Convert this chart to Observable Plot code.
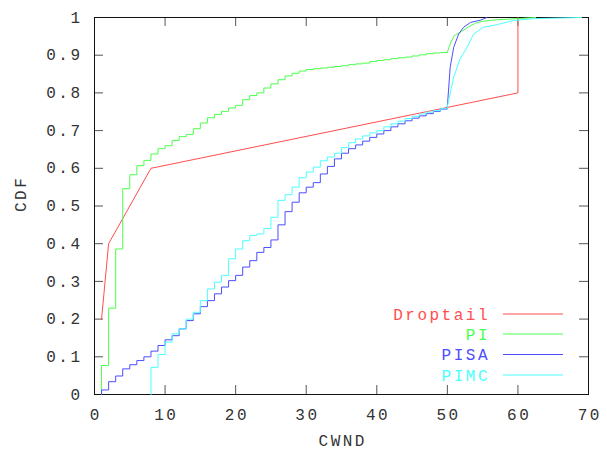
<!DOCTYPE html>
<html><head><meta charset="utf-8">
<script src="https://cdn.jsdelivr.net/npm/d3@7"></script>
<script src="https://cdn.jsdelivr.net/npm/@observablehq/plot@0.6"></script>
<style>
body{margin:0;background:#fff}
#chart svg{letter-spacing:2.5px}
</style>
</head><body><div id="chart"></div>
<script>
const seriesNames = ["Droptail", "PI", "PISA", "PIMC"];
const seriesColors = ["#ff4d4d", "#4dff4d", "#4d4dff", "#4dffff"];

const droptail = [[1,0.2],[1.5,0.3],[2,0.4],[8,0.6],[60,0.8],[60,1.0]];

const pi = [[1,0],[1,0.077],[2,0.229],[3,0.386],[4,0.546],[5,0.583],[6,0.607],[7,0.621],[8,0.638],[9,0.652],[10,0.66],[11,0.674],[12,0.684],[13,0.69],[14,0.705],[15,0.72],[16,0.734],[17,0.743],[18,0.751],[19,0.76],[20,0.767],[21,0.782],[22,0.793],[23,0.80],[24,0.813],[25,0.824],[26,0.835],[27,0.845],[28,0.852],[29,0.858],[30,0.862],[31,0.864],[32,0.866],[33,0.868],[34,0.87],[35,0.872],[36,0.875],[37,0.877],[38,0.879],[39,0.883],[40,0.886],[41,0.888],[42,0.891],[43,0.893],[44,0.895],[45,0.898],[46,0.901],[47,0.904],[48,0.906],[49,0.907],[50,0.908],[50.5,0.935],[51,0.952],[52,0.963],[53,0.975],[54,0.985],[55,0.99],[56,0.992],[57,0.994],[58,0.995],[60,0.997],[62.5,1.0]];

const pisa = [[1,0],[1,0.012],[2,0.034],[3,0.049],[4,0.068],[5,0.079],[6,0.09],[7,0.10],[8,0.115],[9,0.13],[10,0.145],[11,0.156],[12,0.174],[13,0.196],[14,0.214],[15,0.233],[16,0.249],[17,0.267],[18,0.285],[19,0.302],[20,0.316],[21,0.338],[22,0.355],[23,0.377],[24,0.39],[25,0.41],[26,0.45],[27,0.485],[28,0.51],[29,0.535],[30,0.55],[31,0.562],[32,0.585],[33,0.605],[34,0.625],[35,0.64],[36,0.652],[37,0.662],[38,0.672],[39,0.682],[40,0.691],[41,0.7],[42,0.71],[43,0.718],[44,0.726],[45,0.733],[46,0.739],[47,0.745],[48,0.751],[49,0.757],[50,0.764],[50.4,0.868],[50.9,0.921],[51.6,0.956],[52.3,0.974],[53.3,0.987],[54.7,0.993],[55.6,1.0]];

const pimc = [[8,0],[8,0.072],[9,0.106],[10,0.139],[11,0.161],[12,0.174],[13,0.20],[14,0.218],[15,0.249],[16,0.28],[17,0.298],[18,0.316],[19,0.36],[20,0.386],[21,0.408],[22,0.422],[23,0.426],[24,0.44],[25,0.47],[26,0.515],[27,0.53],[28,0.55],[29,0.575],[30,0.59],[31,0.603],[32,0.62],[33,0.63],[34,0.64],[35,0.655],[36,0.668],[37,0.678],[38,0.686],[39,0.694],[40,0.7],[41,0.71],[42,0.718],[43,0.725],[44,0.732],[45,0.738],[46,0.744],[47,0.749],[48,0.753],[49,0.758],[50,0.764],[50.9,0.842],[51.8,0.89],[52.8,0.921],[53.7,0.956],[55.1,0.974],[57,0.981],[59.4,0.992],[62.2,0.997],[69,1.0]];

const xTicks = [0,10,20,30,40,50,60,70];
const yTicks = [0,0.1,0.2,0.3,0.4,0.5,0.6,0.7,0.8,0.9,1];
const xLabel = "CWND";
const yLabel = "CDF";
const stepLimit = 50; // beyond this the CDFs rise steeply and are drawn as lines

const W = 607, H = 456, mL = 94, mR = 19, mT = 17, mB = 62;
const plotW = W - mL - mR, plotH = H - mT - mB;
const FONT = "'Liberation Mono', 'DejaVu Sans Mono', monospace";
const FS = 16;
const TICK = 9;
const ink = "#333";
const tickInk = "#555";

const stepSeries = [pi, pisa, pimc];

const chart = Plot.plot({
  width: W, height: H,
  marginLeft: mL, marginRight: mR, marginTop: mT, marginBottom: mB,
  style: {fontFamily: FONT, fontSize: FS + "px", background: "#fff", color: ink},
  x: {domain: [0, 70]},
  y: {domain: [0, 1]},
  marks: [
    Plot.tickX(xTicks, {x: d => d, insetTop: plotH - TICK, stroke: tickInk}),
    Plot.tickX(xTicks, {x: d => d, insetBottom: plotH - TICK, stroke: tickInk}),
    Plot.tickY(yTicks, {y: d => d, insetRight: plotW - TICK, stroke: tickInk}),
    Plot.tickY(yTicks, {y: d => d, insetLeft: plotW - TICK, stroke: tickInk}),
    Plot.frame({stroke: "#111"}),
    Plot.axisX({ticks: xTicks, tickSize: 0, tickPadding: 14, dx: 1.25, label: null, fontFamily: FONT, fontSize: FS, fill: ink}),
    Plot.axisY({ticks: yTicks, tickSize: 0, tickPadding: 12, label: null, fontFamily: FONT, fontSize: FS, fill: ink,
      tickFormat: d => String(+d.toFixed(1))}),
    Plot.text([xLabel], {frameAnchor: "bottom", dy: 51, dx: 1.25, fontFamily: FONT, fontSize: FS, fill: ink}),
    Plot.text([yLabel], {frameAnchor: "left", dx: -74, dy: 6, rotate: -90, fontFamily: FONT, fontSize: FS, fill: ink}),
    Plot.line(droptail, {x: d => d[0], y: d => d[1], stroke: seriesColors[0], strokeWidth: 1}),
    ...stepSeries.flatMap((s, i) => [
      Plot.line(s, {filter: d => d[0] <= stepLimit, x: d => d[0], y: d => d[1], curve: "step-after", stroke: seriesColors[i + 1], strokeWidth: 1}),
      Plot.line(s, {filter: d => d[0] >= stepLimit, x: d => d[0], y: d => d[1], curve: "linear", stroke: seriesColors[i + 1], strokeWidth: 1})
    ])
  ]
});

// legend inside the plot, bottom right (gnuplot style)
const svg = d3.select(chart);
const right = W - mR, bottom = H - mB;
const rowOffsets = [80, 60, 39.5, 19];
const lg = svg.append("g").attr("font-family", FONT).attr("font-size", FS);
seriesNames.forEach((name, i) => {
  const y = bottom - rowOffsets[i];
  lg.append("text").attr("x", right - 98).attr("y", y).attr("dy", "0.35em")
    .attr("text-anchor", "end").attr("fill", seriesColors[i]).text(name);
  lg.append("line").attr("x1", right - 85).attr("x2", right - 25)
    .attr("y1", y).attr("y2", y).attr("stroke", seriesColors[i]).attr("stroke-width", 1);
});

document.getElementById("chart").append(chart);
</script>
</body></html>
